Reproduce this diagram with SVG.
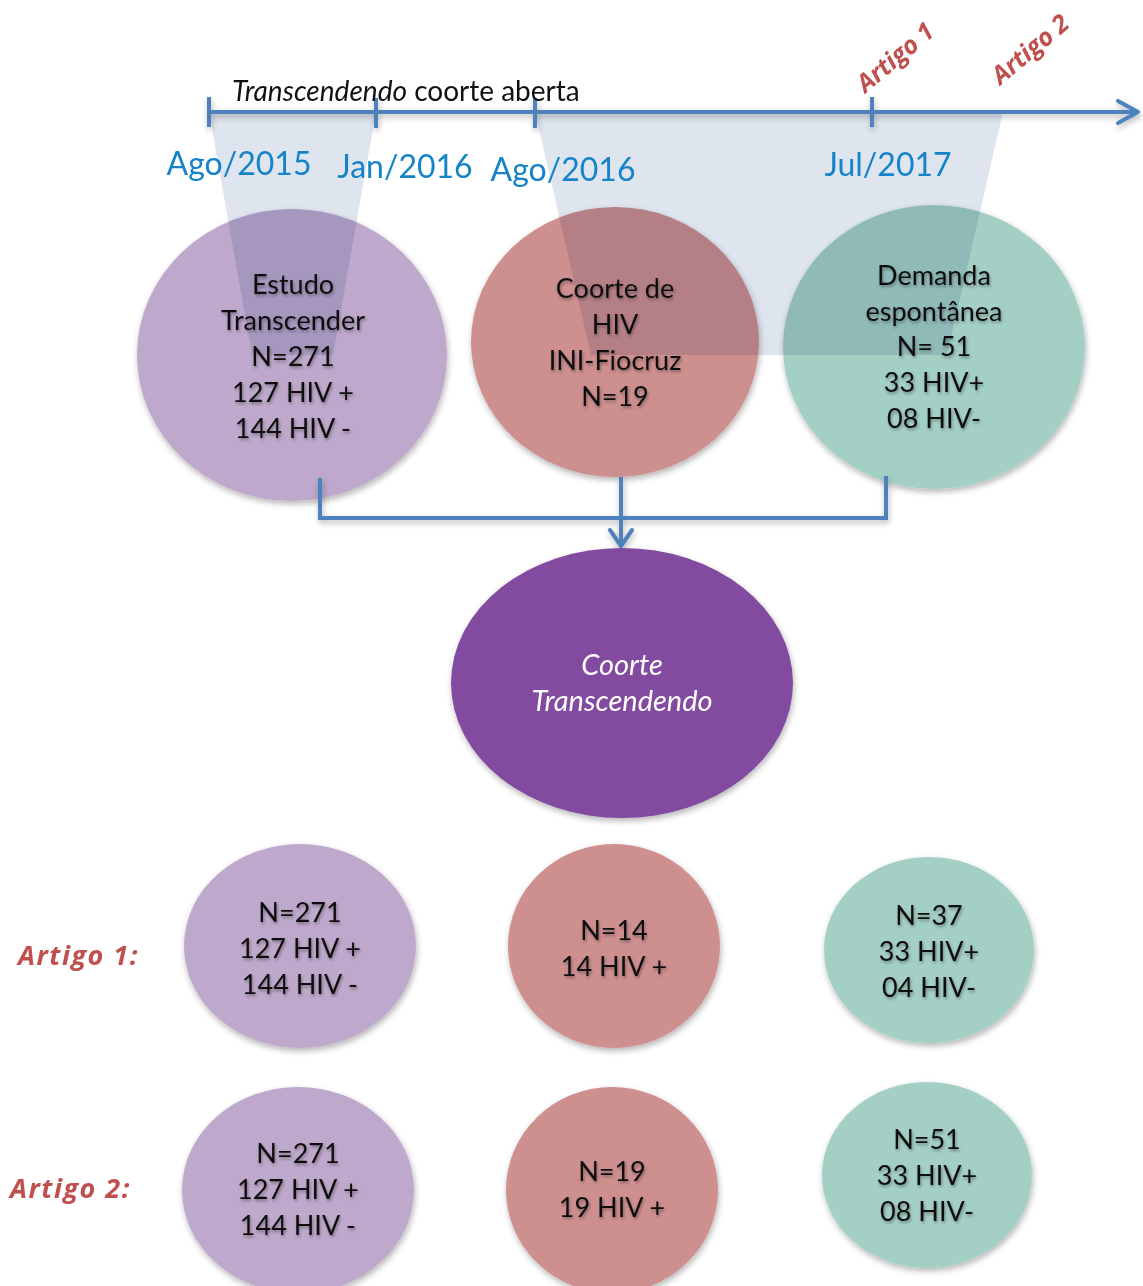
<svg xmlns="http://www.w3.org/2000/svg" width="1143" height="1286" viewBox="0 0 1143 1286">
<style>
.t{font-family:Lato,"Open Sans","Liberation Sans",sans-serif;font-size:27px;fill:#111;text-anchor:middle}
.date{font-family:Lato,"Open Sans","Liberation Sans",sans-serif;font-size:32px;fill:#1583c7;text-anchor:middle}
.art{font-family:"Open Sans","Liberation Sans",sans-serif;font-size:25px;font-weight:bold;font-style:italic;fill:#c0504d}
.line{stroke:#4f81bd;stroke-width:4;fill:none}
.pur{fill:#bea8cb}
.red{fill:#ce8f8f}
.grn{fill:#a4cfc5}
.shade{fill:#dfe5ef;mix-blend-mode:multiply}
</style>
<defs>
<filter id="sh" x="-20%" y="-20%" width="140%" height="140%">
<feGaussianBlur in="SourceAlpha" stdDeviation="3"/>
<feOffset dx="1" dy="3" result="b"/>
<feComponentTransfer><feFuncA type="linear" slope="0.3"/></feComponentTransfer>
<feMerge><feMergeNode/><feMergeNode in="SourceGraphic"/></feMerge>
</filter>
<filter id="tsh" x="-10%" y="-20%" width="120%" height="150%">
<feGaussianBlur in="SourceAlpha" stdDeviation="1.5"/>
<feOffset dx="1" dy="2"/>
<feComponentTransfer><feFuncA type="linear" slope="0.35"/></feComponentTransfer>
<feMerge><feMergeNode/><feMergeNode in="SourceGraphic"/></feMerge>
</filter>
</defs>
<rect width="1143" height="1286" fill="#fff"/>

<!-- top row circles -->
<g id="estudo-transcender-shape"><ellipse class="pur" cx="292" cy="355" rx="155" ry="146" filter="url(#sh)"/></g>
<g id="coorte-hiv-shape"><ellipse class="red" cx="615" cy="342" rx="144" ry="135" filter="url(#sh)"/></g>
<g id="demanda-shape"><ellipse class="grn" cx="934" cy="347" rx="151" ry="142" filter="url(#sh)"/></g>

<!-- shaded projections -->
<g id="shading">
<polygon class="shade" points="209,112 376,112 333,355 252,355"/>
<polygon class="shade" points="535,112 1003,112 947,355 591,355"/>
</g>

<!-- timeline -->
<g id="timeline" filter="url(#sh)">
<line class="line" x1="209" y1="112" x2="1136" y2="112"/>
<polyline class="line" points="1118,101 1138,112 1118,123" stroke-linecap="round" stroke-linejoin="round"/>
<line class="line" x1="209" y1="97" x2="209" y2="127"/>
<line class="line" x1="376" y1="98" x2="376" y2="128"/>
<line class="line" x1="535" y1="98" x2="535" y2="128"/>
<line class="line" x1="872" y1="97" x2="872" y2="127"/>
</g>
<text x="232" y="101" font-family="Lato,'Open Sans','Liberation Sans',sans-serif" font-size="28" fill="#111"><tspan font-style="italic">Transcendendo</tspan> coorte aberta</text>
<text class="date" x="239" y="175">Ago/2015</text>
<text class="date" x="405" y="178">Jan/2016</text>
<text class="date" x="563" y="181">Ago/2016</text>
<text class="date" x="888" y="176">Jul/2017</text>
<text class="art" transform="translate(895,57) rotate(-40)" text-anchor="middle" y="9">Artigo 1</text>
<text class="art" transform="translate(1030,49) rotate(-40)" text-anchor="middle" y="9">Artigo 2</text>

<!-- top row texts -->
<g id="estudo-transcender" filter="url(#tsh)">
<text class="t" x="293" y="294">Estudo</text>
<text class="t" x="293" y="330">Transcender</text>
<text class="t" x="293" y="366">N=271</text>
<text class="t" x="293" y="402">127 HIV +</text>
<text class="t" x="293" y="438">144 HIV -</text>
</g>
<g id="coorte-hiv" filter="url(#tsh)">
<text class="t" x="615" y="298">Coorte de</text>
<text class="t" x="615" y="334">HIV</text>
<text class="t" x="615" y="370">INI-Fiocruz</text>
<text class="t" x="615" y="406">N=19</text>
</g>
<g id="demanda" filter="url(#tsh)">
<text class="t" x="934" y="285">Demanda</text>
<text class="t" x="934" y="321">espontânea</text>
<text class="t" x="934" y="356">N= 51</text>
<text class="t" x="934" y="392">33 HIV+</text>
<text class="t" x="934" y="428">08 HIV-</text>
</g>

<!-- connectors -->
<g id="connectors" filter="url(#sh)">
<line class="line" x1="320" y1="478" x2="320" y2="518"/>
<line class="line" x1="886" y1="476" x2="886" y2="518"/>
<line class="line" x1="318" y1="518" x2="888" y2="518"/>
<line class="line" x1="621" y1="477" x2="621" y2="545"/>
<polyline class="line" points="610,530 621,546 632,530" stroke-linejoin="round" stroke-linecap="round"/>
</g>

<!-- central node -->
<g id="coorte-transcendendo">
<ellipse cx="622" cy="683" rx="171" ry="135" fill="#834ba0" filter="url(#sh)"/>
<text class="t" x="622" y="675" style="fill:#fff;font-style:italic;font-size:29px">Coorte</text>
<text class="t" x="622" y="711" style="fill:#fff;font-style:italic;font-size:29px">Transcendendo</text>
</g>

<!-- row labels -->
<text class="art" x="18" y="965" font-size="27" style="font-size:27px;letter-spacing:1.5px">Artigo 1:</text>
<text class="art" x="10" y="1198" font-size="27" style="font-size:27px;letter-spacing:1.5px">Artigo 2:</text>

<!-- Artigo 1 row -->
<g id="a1-purple" filter="url(#sh)">
<ellipse class="pur" cx="300" cy="946" rx="116" ry="102"/>
</g>
<g id="a1-purple-text" filter="url(#tsh)">
<text class="t" x="300" y="922">N=271</text>
<text class="t" x="300" y="958">127 HIV +</text>
<text class="t" x="300" y="994">144 HIV -</text>
</g>
<g id="a1-red" filter="url(#sh)">
<ellipse class="red" cx="614" cy="946" rx="106" ry="102"/>
</g>
<g id="a1-red-text" filter="url(#tsh)">
<text class="t" x="614" y="940">N=14</text>
<text class="t" x="614" y="976">14 HIV +</text>
</g>
<g id="a1-green" filter="url(#sh)">
<ellipse class="grn" cx="929" cy="950" rx="105" ry="93"/>
</g>
<g id="a1-green-text" filter="url(#tsh)">
<text class="t" x="929" y="925">N=37</text>
<text class="t" x="929" y="961">33 HIV+</text>
<text class="t" x="929" y="997">04 HIV-</text>
</g>

<!-- Artigo 2 row -->
<g id="a2-purple" filter="url(#sh)">
<ellipse class="pur" cx="298" cy="1190" rx="116" ry="103"/>
</g>
<g id="a2-purple-text" filter="url(#tsh)">
<text class="t" x="298" y="1163">N=271</text>
<text class="t" x="298" y="1199">127 HIV +</text>
<text class="t" x="298" y="1235">144 HIV -</text>
</g>
<g id="a2-red" filter="url(#sh)">
<ellipse class="red" cx="612" cy="1190" rx="106" ry="103"/>
</g>
<g id="a2-red-text" filter="url(#tsh)">
<text class="t" x="612" y="1181">N=19</text>
<text class="t" x="612" y="1217">19 HIV +</text>
</g>
<g id="a2-green" filter="url(#sh)">
<ellipse class="grn" cx="927" cy="1175" rx="105" ry="93"/>
</g>
<g id="a2-green-text" filter="url(#tsh)">
<text class="t" x="927" y="1149">N=51</text>
<text class="t" x="927" y="1185">33 HIV+</text>
<text class="t" x="927" y="1221">08 HIV-</text>
</g>
</svg>
